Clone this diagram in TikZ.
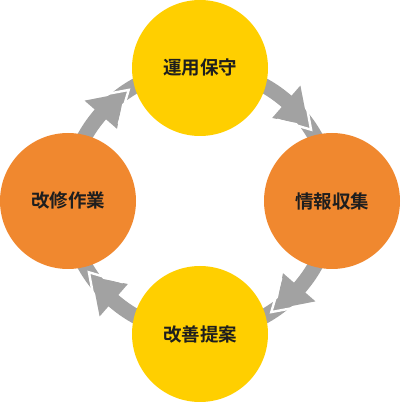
\documentclass[tikz,border=0pt]{standalone}
\usepackage{fontspec}
\newfontfamily\cjk{Noto Sans CJK JP Bold}
\definecolor{cyel}{HTML}{FFCF00}
\definecolor{corg}{HTML}{F0882F}
\definecolor{cgray}{HTML}{A2A2A2}
\definecolor{ctxt}{HTML}{1E1E1E}
\begin{document}
\begin{tikzpicture}[x=1pt,y=1pt,
  stage/.style={circle,minimum size=136pt,inner sep=0pt,font=\cjk\fontsize{18.5}{18.5}\selectfont,text=ctxt},
  shaft/.style={draw=cgray,line width=15pt},
  head/.style={fill=cgray},
  notch/.style={draw=white,line width=2.4pt,line join=miter}]
\useasboundingbox (0,0) rectangle (400,402);
\coordinate (c) at (200,201);
% arrows
\foreach \s in {90,0,-90,-180}{
  \draw[shaft] ([shift={(\s:132)}]c) arc[start angle=\s,end angle=\s-90,radius=132];
  \fill[head] ([shift={(\s-41:110)}]c) -- ([shift={(\s-55:132)}]c) -- ([shift={(\s-41:153)}]c) -- cycle;
  \draw[notch] ([shift={(\s-43.5:112)}]c) -- ([shift={(\s-57.3:132)}]c) -- ([shift={(\s-43.5:151)}]c);
}
\node[stage,fill=cyel] (top) at (200,334) {運用保守};
\node[stage,fill=corg] (right) at (332,201) {情報収集};
\node[stage,fill=cyel] (bottom) at (200,68) {改善提案};
\node[stage,fill=corg] (left) at (68,201) {改修作業};
\end{tikzpicture}
\end{document}
